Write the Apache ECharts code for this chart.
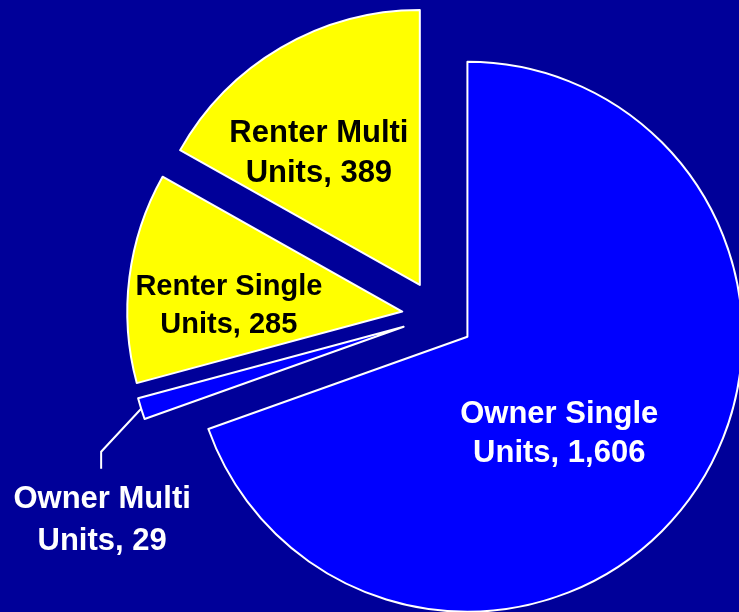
<!DOCTYPE html>
<html>
<head>
<meta charset="utf-8">
<script src="https://cdn.jsdelivr.net/npm/echarts@6/dist/echarts.min.js"></script>
<style>
  html, body { margin: 0; padding: 0; background: #000099; }
  #chart { width: 739px; height: 612px; }
</style>
</head>
<body>
<div id="chart"></div>
<script>
const categories = ['Owner Single\nUnits', 'Owner Multi\nUnits', 'Renter Single\nUnits', 'Renter Multi\nUnits'];
const values = [1606, 29, 285, 389];
const sliceColors = ['#0000ff', '#0000ff', '#ffff00', '#ffff00'];
const labelColors = ['#ffffff', '#ffffff', '#000000', '#000000'];
const labelSizes = [31, 31, 29, 31];
const labelLineHeights = [39, 42, 38, 40];

// nudges for the inside labels, from where echarts puts them
const labelShift = [[-23, 16], [0, 0], [-34, 12], [-30, -10]];

const chart = echarts.init(document.getElementById('chart'));

// small slice: leader goes down-left then straight down to the label
function smallSliceLayout(p) {
  const pts = p.labelLinePoints;
  if (!pts) return {};
  const p0 = [pts[0][0], pts[0][1]];
  const p1 = [p0[0] - 40, p0[1] + 43];
  const p2 = [p1[0], p1[1] + 17];
  return {
    labelLinePoints: [p0, p1, p2],
    align: 'center',
    dx: (p0[0] - 39) - (pts[2][0] - 5),
    dy: (p0[1] + 112) - pts[2][1]
  };
}

chart.setOption({
  backgroundColor: '#000099',
  animation: false,
  series: [
    {
      type: 'pie',
      center: [438, 316],
      radius: 275,
      startAngle: 90,
      clockwise: true,
      selectedMode: 'multiple',
      selectedOffset: 36,
      emphasis: { disabled: true },
      itemStyle: { borderColor: '#ffffff', borderWidth: 2 },
      select: { itemStyle: { borderColor: '#ffffff', borderWidth: 2 } },
      label: {
        position: 'inside',
        fontFamily: 'Liberation Sans, Arial, sans-serif',
        fontWeight: 'bold',
        align: 'center',
        formatter: p => p.name + ', ' + p.value.toLocaleString('en-US')
      },
      labelLine: { show: false },
      labelLayout: p => {
        if (p.dataIndex === 1) return smallSliceLayout(p);
        const s = labelShift[p.dataIndex];
        return { dx: s[0], dy: s[1] };
      },
      data: categories.map((name, i) => ({
        name: name,
        value: values[i],
        selected: true,
        itemStyle: { color: sliceColors[i] },
        label: {
          position: i === 1 ? 'outside' : 'inside',
          overflow: 'none',
          color: labelColors[i],
          fontSize: labelSizes[i],
          lineHeight: labelLineHeights[i]
        },
        labelLine: i === 1
          ? { show: true, length: 20, length2: 16, lineStyle: { color: '#ffffff', width: 2 } }
          : { show: false }
      }))
    }
  ]
});
</script>
</body>
</html>
